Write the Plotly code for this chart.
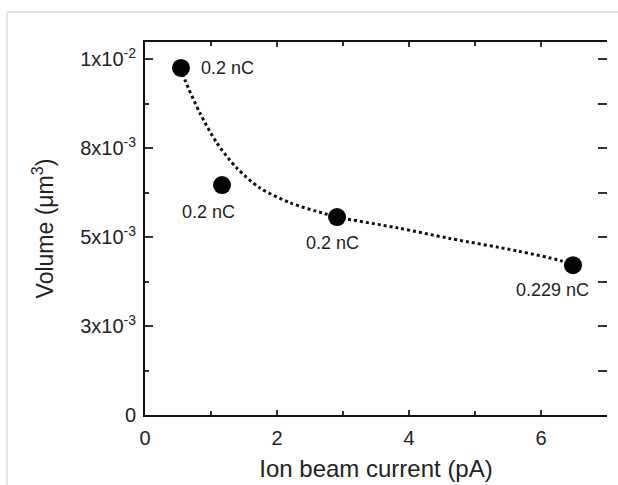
import plotly.graph_objects as go

# Measured points
current_pA = [0.545, 1.167, 2.91, 6.485]
volume_um3 = [0.00975, 0.00646, 0.00556, 0.00421]
charge_labels = ["0.2 nC", "0.2 nC", "0.2 nC", "0.229 nC"]

# Dotted guide curve
curve_x = [0.545, 0.606, 0.833, 1.09, 1.39, 1.74, 2.20, 2.70, 2.91, 3.82, 4.62, 5.64, 6.29, 6.485]
curve_y = [0.00975, 0.00941, 0.00848, 0.00764, 0.00694, 0.00638, 0.00596, 0.00567, 0.00556,
           0.00526, 0.00496, 0.00461, 0.00434, 0.00421]

# Axis ticks
y_tickvals = [0, 0.0025, 0.005, 0.0075, 0.01]
y_ticktext = ["0", "3x10<sup>-3</sup>", "5x10<sup>-3</sup>", "8x10<sup>-3</sup>", "1x10<sup>-2</sup>"]
y_minor = [0.00125, 0.00375, 0.00625, 0.00875]
y_right_ticks = [0, 0.00125, 0.0025, 0.00375, 0.005, 0.00625, 0.0075, 0.00875, 0.01]
x_tickvals = [0, 2, 4, 6]
x_ticktext = ["0", "2", "4", "6"]
x_minor = [1, 3, 5]

FONT = "Arial, Liberation Sans, sans-serif"
X_RANGE = [0, 7]
Y_RANGE = [0, 0.01048]

fig = go.Figure()
fig.add_trace(go.Scatter(x=curve_x, y=curve_y, mode="lines",
                         line=dict(color="#111111", width=3, dash="3px,3px", shape="spline", smoothing=0.8),
                         hoverinfo="skip", showlegend=False))
fig.add_trace(go.Scatter(x=current_pA, y=volume_um3, mode="markers",
                         marker=dict(color="#050505", size=18),
                         showlegend=False))
# invisible trace to activate right-side tick axis
fig.add_trace(go.Scatter(x=[current_pA[0]], y=[volume_um3[0]], yaxis="y2", mode="markers",
                         marker=dict(opacity=0), hoverinfo="skip", showlegend=False))

label_shifts = [(18, 0, "left"), (-14, -27, "center"), (-5, -26, "center"), (-21, -25, "center")]
for xv, yv, txt, (dx, dy, anc) in zip(current_pA, volume_um3, charge_labels, label_shifts):
    fig.add_annotation(x=xv, y=yv, xref="x", yref="y", text=txt, showarrow=False,
                       xanchor=anc, yanchor="middle", xshift=dx, yshift=dy,
                       font=dict(family=FONT, size=18, color="#222222"))

fig.update_layout(
    width=618, height=485,
    margin=dict(l=145, r=11, t=42, b=70),
    paper_bgcolor="white", plot_bgcolor="white",
    font=dict(family=FONT, color="#222222"),
    showlegend=False,
    xaxis=dict(range=X_RANGE, showgrid=False, zeroline=False, automargin=False,
               showline=True, linecolor="#111111", linewidth=2, mirror="ticks",
               tickmode="array", tickvals=x_tickvals, ticktext=x_ticktext,
               ticks="inside", ticklen=5, tickwidth=1.5, tickcolor="#333333",
               minor=dict(tickvals=x_minor, ticks="inside", ticklen=4, tickwidth=1.5,
                          tickcolor="#333333", showgrid=False),
               tickfont=dict(size=20, family=FONT, color="#222222"),
               ticklabelstandoff=4,
               title=dict(text="Ion beam current (pA)", font=dict(size=24, family=FONT, color="#222222"),
                          standoff=12)),
    yaxis=dict(range=Y_RANGE, showgrid=False, zeroline=False, automargin=False,
               showline=True, linecolor="#111111", linewidth=2,
               tickmode="array", tickvals=y_tickvals, ticktext=y_ticktext,
               ticks="inside", ticklen=8, tickwidth=1.5, tickcolor="#333333",
               minor=dict(tickvals=y_minor, ticks="inside", ticklen=4, tickwidth=1.5,
                          tickcolor="#333333", showgrid=False),
               tickfont=dict(size=20, family=FONT, color="#222222"),
               ticklabelstandoff=3,
               title=dict(text="Volume (μm<sup>3</sup>)", font=dict(size=23, family=FONT, color="#222222"),
                          standoff=20)),
    yaxis2=dict(range=Y_RANGE, overlaying="y", side="right", showgrid=False, zeroline=False,
                automargin=False,
                showline=False, showticklabels=False, tickmode="array", tickvals=y_right_ticks,
                ticks="inside", ticklen=9, tickwidth=1.5, tickcolor="#333333"),
)

# light grey frame of the scanned figure
fig.add_shape(type="line", xref="paper", yref="paper",
              x0=-0.2987, x1=1.03, y0=1.0804, y1=1.0804, line=dict(color="#dddddd", width=1.5))
fig.add_shape(type="line", xref="paper", yref="paper",
              x0=-0.2987, x1=-0.2987, y0=1.0804, y1=-0.2, line=dict(color="#dddddd", width=1.5))

fig.write_html("out.html", config={"displayModeBar": False},
               post_script="document.body.style.margin='0';document.body.style.overflow='hidden';")
